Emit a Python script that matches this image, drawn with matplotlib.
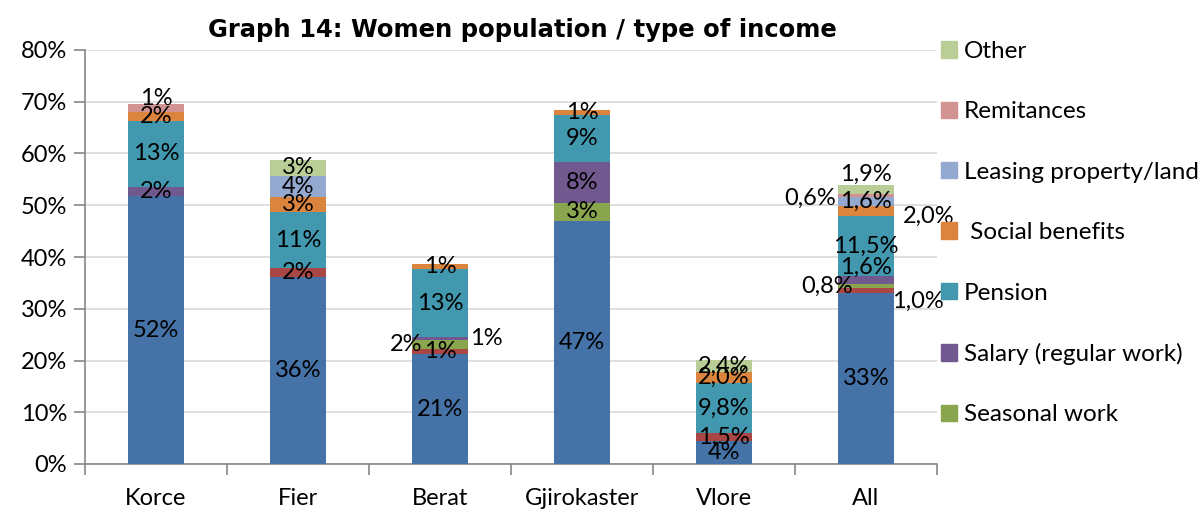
import numpy as np
import matplotlib
matplotlib.use("Agg")
import matplotlib.pyplot as plt
from matplotlib.patches import Patch

plt.rcParams['font.family'] = ['Lato', 'DejaVu Sans']

categories = ['Korce', 'Fier', 'Berat', 'Gjirokaster', 'Vlore', 'All']

# stacked from the bottom up, values in %
agriculture = [51.7, 36.2, 21.2, 47.0, 4.4, 33.0]
business = [0, 1.7, 1.1, 0, 1.5, 1.0]
seasonal = [0, 0, 1.6, 3.4, 0, 0.8]
salary = [1.9, 0, 0.6, 7.9, 0, 1.6]
pension = [12.7, 10.7, 13.1, 9.2, 9.8, 11.5]
social = [1.8, 2.9, 1.0, 1.0, 2.0, 2.0]
leasing = [0, 4.2, 0, 0, 0, 1.6]
remit = [1.4, 0, 0, 0, 0, 0.6]
other = [0, 3.1, 0, 0, 2.4, 1.9]

series = [agriculture, business, seasonal, salary, pension, social, leasing, remit, other]
names = ['Agriculture', 'Own business', 'Seasonal work', 'Salary (regular work)', 'Pension',
         ' Social benefits', 'Leasing property/land', 'Remitances', 'Other']
colors = ['#4572A7', '#AA4643', '#89A54E', '#71588F', '#4198AF',
          '#DB843D', '#93A9CF', '#D19392', '#B9CD96']

# number of decimals in the data labels per category
decimals = [0, 0, 0, 0, 1, 1]
label_override = {(4, 0): '4%', (5, 0): '33%'}

# manual label shifts in pixels (category, series) -> (dx, dy)
shifts = {(0, 7): (0, 9), (2, 2): (-34, 0), (2, 3): (46, 0),
          (5, 1): (52, -11), (5, 2): (-39, 0), (5, 3): (0, 12),
          (5, 5): (63, -5), (5, 7): (-56, -2), (5, 8): (0, 15)}

fs = 17

fig = plt.figure(figsize=(12.03, 5.09), dpi=100)
ax = fig.add_axes([85 / 1203, 45 / 509, 852 / 1203, 414 / 509])

x = np.arange(len(categories))
bottom = np.zeros(len(categories))
for s, (vals, name, col) in enumerate(zip(series, names, colors)):
    vals = np.array(vals, dtype=float)
    ax.bar(x, vals, 0.4, bottom=bottom, color=col, label=name, zorder=3)
    for i, v in enumerate(vals):
        if v <= 0:
            continue
        if (i, s) in label_override:
            txt = label_override[(i, s)]
        elif decimals[i] == 0:
            txt = '%d%%' % round(v)
        else:
            txt = ('%.1f%%' % v).replace('.', ',')
        dx, dy = shifts.get((i, s), (0, 0))
        ax.annotate(txt, (x[i], bottom[i] + v / 2), xytext=(dx, dy),
                    textcoords='offset pixels', ha='center', va='center',
                    fontsize=fs, color='black', zorder=5)
    bottom += vals

ax.set_xlim(-0.5, len(categories) - 0.5)
ax.set_ylim(0, 80)
ax.set_yticks(np.arange(0, 81, 10))
ax.set_yticklabels(['%d%%' % t for t in range(0, 81, 10)], fontsize=fs)
ax.yaxis.grid(True, color='#d9d9d9', linewidth=1.2, zorder=0)
ax.set_axisbelow(True)

ax.set_xticks(np.arange(-0.5, len(categories), 1.0))
ax.set_xticklabels([])
ax.set_xticks(x, minor=True)
ax.set_xticklabels(categories, minor=True, fontsize=fs)
ax.tick_params(axis='x', which='minor', length=0, pad=17)
ax.tick_params(axis='x', which='major', length=8, color='#868686', width=1.2)
ax.tick_params(axis='y', length=8, color='#868686', width=1.2, pad=5)

for side in ['top', 'right']:
    ax.spines[side].set_visible(False)
for side in ['left', 'bottom']:
    ax.spines[side].set_color('#868686')
    ax.spines[side].set_linewidth(1.2)

fig.text(522 / 1203, 1 - 30 / 509, 'Graph 14: Women population / type of income',
         ha='center', va='center', fontsize=17.5, fontweight='bold', family='DejaVu Sans')

handles = [Patch(color=c) for c in colors[::-1][:7]]
labels = names[::-1][:7]
fig.legend(handles, labels, loc='upper left', bbox_to_anchor=(941 / 1203, 1 - 41 / 509),
           frameon=False, fontsize=17.5, handlelength=0.65, handleheight=0.65,
           handletextpad=0.3, labelspacing=1.62, borderpad=0, borderaxespad=0)

fig.savefig('out.png', dpi=100)
